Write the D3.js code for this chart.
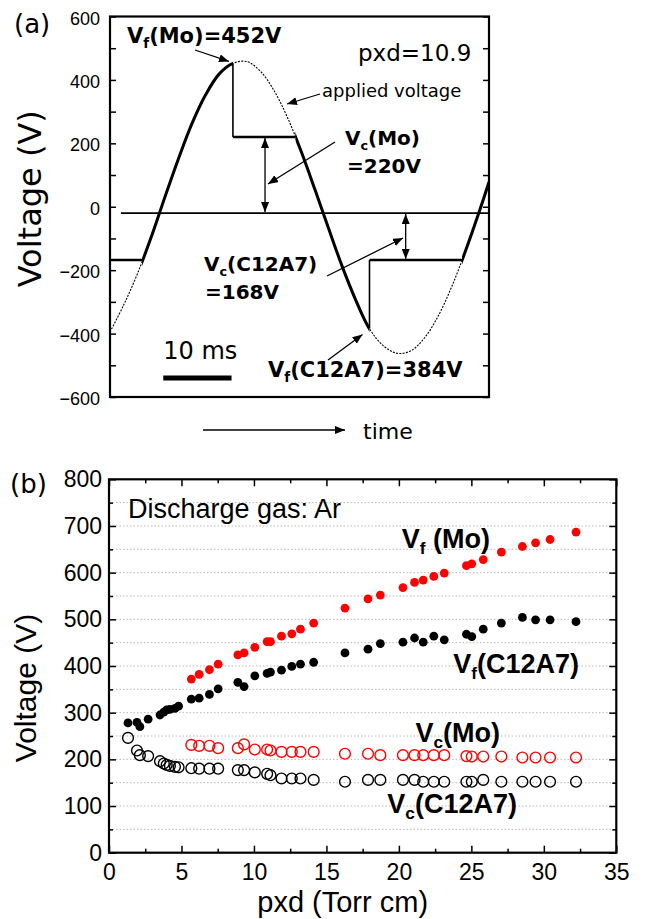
<!DOCTYPE html>
<html>
<head>
<meta charset="utf-8">
<script src="https://cdn.jsdelivr.net/npm/d3@7"></script>
<style>
  html, body { margin: 0; padding: 0; background: #fff; }
  svg { display: block; }
</style>
</head>
<body>
<svg id="fig" width="645" height="919"></svg>
<script>
// ---------- (a) voltage waveform at pxd = 10.9 ----------
const waveTimeMs = [0, 2, 4, 6, 8, 10, 12, 14, 16, 18, 20, 22, 24, 26, 28, 30, 32, 34, 36, 38, 40, 42, 44, 46, 48, 50, 52, 54, 55.5];
const appliedV   = [-395, -310, -212, -98, 28, 150, 262, 353, 419, 452, 458, 428, 367, 281, 174, 55, -68, -188, -295, -385, -438, -462, -455, -415, -347, -254, -143, -20, 78];
// spans where the cell voltage follows the applied voltage
const followSpans = [[4.7, 18], [27.15, 38], [51.55, 55.5]];
// sustained (flat) cell-voltage spans
const plateauT0 = [0, 18, 38];
const plateauT1 = [4.7, 27.15, 51.55];
const plateauV  = [-168, 220, -168];
// firing events: time, firing voltage, sustaining voltage reached
const firingT  = [18, 38];
const firingVf = [452, -384];
const firingVc = [220, -168];
const refLevelV = -20;
const yTicksA = [-600, -500, -400, -300, -200, -100, 0, 100, 200, 300, 400, 500, 600];
const scaleBarMs = 10;

// ---------- (b) firing / sustaining voltage vs pxd ----------
const pxdMo = [5.68, 6.22, 6.93, 7.53, 8.89, 9.32, 10.06, 10.91, 11.14, 11.90, 12.61, 13.21, 14.12, 16.28, 17.87, 18.72, 20.28, 21.08, 21.68, 22.41, 23.13, 24.66, 25.03, 25.82, 27.07, 28.52, 29.43, 30.43, 32.22];
const vfMo  = [372, 382, 392, 404, 424, 428, 440, 452, 452, 464, 469, 479, 492, 524, 544, 552, 568, 579, 584, 592, 599, 615, 619, 628, 644, 656, 664, 671, 687];
const vcMo  = [231, 229, 229, 224, 224, 232, 221, 221, 219, 216, 216, 216, 216, 212, 212, 209, 209, 209, 209, 209, 209, 207, 206, 206, 206, 204, 204, 204, 204];
const pxdC12A7 = [1.31, 1.93, 2.13, 2.70, 3.52, 3.78, 3.98, 4.20, 4.55, 4.80, 5.68, 6.22, 6.93, 7.53, 8.89, 9.32, 10.06, 10.91, 11.14, 11.90, 12.61, 13.21, 14.12, 16.28, 17.87, 18.72, 20.28, 21.08, 21.68, 22.41, 23.13, 24.66, 25.03, 25.82, 27.07, 28.52, 29.43, 30.43, 32.22];
const vfC12A7  = [278, 279, 270, 286, 295, 301, 306, 307, 309, 314, 329, 331, 339, 351, 365, 356, 379, 384, 387, 391, 399, 404, 408, 428, 436, 448, 451, 460, 451, 464, 456, 468, 463, 479, 492, 504, 499, 499, 495];
const vcC12A7  = [246, 219, 209, 207, 196, 191, 188, 186, 184, 183, 181, 180, 180, 180, 177, 177, 172, 169, 166, 159, 159, 159, 156, 152, 156, 156, 156, 156, 152, 152, 152, 152, 152, 156, 152, 152, 152, 152, 152];
const xTicksB = [0, 5, 10, 15, 20, 25, 30, 35];
const yTicksB = [0, 100, 200, 300, 400, 500, 600, 700, 800];

const svg = d3.select("#fig");
const SANS = "'Liberation Sans', Arial, sans-serif";
const DEJA = "'DejaVu Sans', sans-serif";
const fmtSigned = d => (d < 0 ? "\u2212" + Math.abs(d) : String(d));

// arrowhead marker
const defs = svg.append("defs");
defs.append("marker")
  .attr("id", "head").attr("viewBox", "0 0 10 8")
  .attr("refX", 10).attr("refY", 4)
  .attr("markerWidth", 10).attr("markerHeight", 8)
  .attr("markerUnits", "userSpaceOnUse")
  .attr("orient", "auto-start-reverse")
  .append("path").attr("d", "M0,0 L10,4 L0,8 Z").attr("fill", "#000");

// text with a subscript part: parts = [[text, isSub], ...]
function richText(g, x, y, parts, size, family, weight, anchor) {
  const t = g.append("text")
    .attr("x", x).attr("y", y)
    .attr("font-family", family).attr("font-size", size)
    .attr("font-weight", weight || "normal")
    .attr("text-anchor", anchor || "start")
    .attr("fill", "#000");
  const shift = size * 0.24;
  let lowered = false;
  parts.forEach(([s, sub]) => {
    const ts = t.append("tspan").text(s);
    if (sub && !lowered) { ts.attr("dy", shift).attr("font-size", size * 0.64); lowered = true; }
    else if (!sub && lowered) { ts.attr("dy", -shift); lowered = false; }
  });
  return t;
}
function plainText(g, x, y, s, size, family, weight) {
  return g.append("text").attr("x", x).attr("y", y)
    .attr("font-family", family).attr("font-size", size)
    .attr("font-weight", weight || "normal").attr("fill", "#000").text(s);
}

// ================= panel (a) =================
const A = {left: 110, right: 489, top: 16.5, bottom: 397};
const xA = d3.scaleLinear().domain([0, 55.5]).range([A.left, A.right]);
const yA = d3.scaleLinear().domain([-600, 600]).range([A.bottom, A.top]);
const gA = svg.append("g");

const wave = waveTimeMs.map((t, i) => [t, appliedV[i]]);
const waveLine = d3.line().x(d => xA(d[0])).y(d => yA(d[1])).curve(d3.curveCatmullRom);

defs.append("clipPath").attr("id", "clipA")
  .append("rect").attr("x", A.left).attr("y", A.top)
  .attr("width", A.right - A.left).attr("height", A.bottom - A.top);
const follow = defs.append("clipPath").attr("id", "follow");
follow.selectAll("rect").data(followSpans).join("rect")
  .attr("x", d => xA(d[0])).attr("width", d => xA(d[1]) - xA(d[0]))
  .attr("y", A.top - 10).attr("height", A.bottom - A.top + 20);

const plotA = gA.append("g").attr("clip-path", "url(#clipA)");

// reference level line
plotA.append("line")
  .attr("x1", xA(1.6)).attr("x2", A.right)
  .attr("y1", yA(refLevelV)).attr("y2", yA(refLevelV))
  .attr("stroke", "#000").attr("stroke-width", 1.6);

// applied voltage (thin dotted)
plotA.append("path").datum(wave)
  .attr("d", waveLine).attr("fill", "none")
  .attr("stroke", "#000").attr("stroke-width", 1.1)
  .attr("stroke-dasharray", "2,1.3");

// cell voltage: follows applied voltage between discharges
plotA.append("g").attr("clip-path", "url(#follow)")
  .append("path").datum(wave)
  .attr("d", waveLine).attr("fill", "none")
  .attr("stroke", "#000").attr("stroke-width", 3);

// cell voltage: sustained levels
plotA.selectAll("line.plateau").data(plateauV).join("line")
  .attr("class", "plateau")
  .attr("x1", (d, i) => xA(plateauT0[i])).attr("x2", (d, i) => xA(plateauT1[i]))
  .attr("y1", d => yA(d)).attr("y2", d => yA(d))
  .attr("stroke", "#000").attr("stroke-width", 2.6);

// cell voltage: collapse at firing
plotA.selectAll("line.fire").data(firingT).join("line")
  .attr("class", "fire")
  .attr("x1", d => xA(d)).attr("x2", d => xA(d))
  .attr("y1", (d, i) => yA(firingVf[i])).attr("y2", (d, i) => yA(firingVc[i]))
  .attr("stroke", "#000").attr("stroke-width", 1.6);

// axes (a)
const axLA = d3.axisLeft(yA).tickValues(yTicksA).tickSize(-6).tickPadding(10)
  .tickFormat(d => (d % 200 === 0 ? fmtSigned(d) : ""));
const gLA = gA.append("g").attr("transform", `translate(${A.left},0)`).call(axLA);
const axRA = d3.axisRight(yA).tickValues(yTicksA).tickSize(-6).tickFormat("");
const gRA = gA.append("g").attr("transform", `translate(${A.right},0)`).call(axRA);
[gLA, gRA].forEach(g => {
  g.select(".domain").remove();
  g.selectAll(".tick line").attr("stroke-width", 1.5);
  g.selectAll(".tick text").attr("font-family", SANS).attr("font-size", 18)
    .attr("fill", "#000").attr("dy", "0.42em");
});
gA.append("rect")
  .attr("x", A.left).attr("y", A.top)
  .attr("width", A.right - A.left).attr("height", A.bottom - A.top)
  .attr("fill", "none").attr("stroke", "#000").attr("stroke-width", 2.2);

// y label (a)
gA.append("text")
  .attr("transform", `translate(41,${(A.top + A.bottom) / 2 - 8}) rotate(-90)`)
  .attr("text-anchor", "middle")
  .attr("font-family", DEJA).attr("font-size", 32).text("Voltage (V)");

plainText(gA, 14, 33, "(a)", 26, DEJA);

// annotations (a)
richText(gA, 127, 43, [["V", false], ["f", true], ["(Mo)=452V", false]], 21, DEJA, "bold");
plainText(gA, 358, 61, "pxd=10.9", 23, DEJA);
plainText(gA, 322, 97, "applied voltage", 18, DEJA);
richText(gA, 345, 145, [["V", false], ["c", true], ["(Mo)", false]], 20, DEJA, "bold");
plainText(gA, 347, 173, "=220V", 20, DEJA, "bold");
richText(gA, 204, 271, [["V", false], ["c", true], ["(C12A7)", false]], 20, DEJA, "bold");
plainText(gA, 205, 299, "=168V", 20, DEJA, "bold");
richText(gA, 268, 377, [["V", false], ["f", true], ["(C12A7)=384V", false]], 21, DEJA, "bold");

function arrow(g, x1, y1, x2, y2, both) {
  const l = g.append("line")
    .attr("x1", x1).attr("y1", y1).attr("x2", x2).attr("y2", y2)
    .attr("stroke", "#000").attr("stroke-width", 1.3)
    .attr("marker-end", "url(#head)");
  if (both) l.attr("marker-start", "url(#head)");
}
// pointer arrows
arrow(gA, 195, 50, xA(firingT[0]) - 4, yA(firingVf[0]) - 2);
arrow(gA, 320, 94, 287, 104);
arrow(gA, 335, 142, 268, 184);
arrow(gA, 327, 276, 403, 238);
arrow(gA, 328, 360, xA(firingT[1]) - 7, yA(firingVf[1]) + 6);
arrow(gA, xA(22.7), yA(firingVc[0]) + 1, xA(22.7), yA(refLevelV) - 1, true);
arrow(gA, xA(43.3), yA(refLevelV) + 1, xA(43.3), yA(firingVc[1]) - 1, true);

// time scale bar
gA.append("line")
  .attr("x1", xA(7.8)).attr("x2", xA(7.8 + scaleBarMs))
  .attr("y1", 378).attr("y2", 378)
  .attr("stroke", "#000").attr("stroke-width", 5);
plainText(gA, xA(7.8), 359, "10 ms", 24, DEJA);

// time direction
arrow(gA, 203, 430, 345, 430);
plainText(gA, 363, 439, "time", 22, DEJA);

// ================= panel (b) =================
const B = {left: 109, right: 616.3, top: 479.3, bottom: 852.7};
const xB = d3.scaleLinear().domain([0, 35]).range([B.left, B.right]);
const yB = d3.scaleLinear().domain([0, 800]).range([B.bottom, B.top]);
const gB = svg.append("g");

// dotted grid every 50 V
gB.append("g").selectAll("line").data(d3.range(50, 800, 50)).join("line")
  .attr("x1", B.left).attr("x2", B.right)
  .attr("y1", d => yB(d)).attr("y2", d => yB(d))
  .attr("stroke", "#b8b8b8").attr("stroke-width", 1)
  .attr("stroke-dasharray", "1.5,2");

// axes (b)
const minorX = d3.range(2.5, 35, 5);
const minorY = d3.range(50, 800, 100);
function styleAxis(g) {
  g.select(".domain").remove();
  g.selectAll(".tick line").attr("stroke-width", 1.5);
  g.selectAll(".tick text").attr("font-family", SANS).attr("font-size", 23).attr("fill", "#000");
}
styleAxis(gB.append("g").attr("transform", `translate(0,${B.bottom})`)
  .call(d3.axisBottom(xB).tickValues(xTicksB).tickSize(-7).tickPadding(11)));
styleAxis(gB.append("g").attr("transform", `translate(0,${B.bottom})`)
  .call(d3.axisBottom(xB).tickValues(minorX).tickSize(-4).tickFormat("")));
styleAxis(gB.append("g").attr("transform", `translate(0,${B.top})`)
  .call(d3.axisTop(xB).tickValues(xTicksB).tickSize(-7).tickFormat("")));
styleAxis(gB.append("g").attr("transform", `translate(0,${B.top})`)
  .call(d3.axisTop(xB).tickValues(minorX).tickSize(-4).tickFormat("")));
styleAxis(gB.append("g").attr("transform", `translate(${B.left},0)`)
  .call(d3.axisLeft(yB).tickValues(yTicksB).tickSize(-7).tickPadding(7)));
styleAxis(gB.append("g").attr("transform", `translate(${B.left},0)`)
  .call(d3.axisLeft(yB).tickValues(minorY).tickSize(-4).tickFormat("")));
styleAxis(gB.append("g").attr("transform", `translate(${B.right},0)`)
  .call(d3.axisRight(yB).tickValues(yTicksB).tickSize(-7).tickFormat("")));
styleAxis(gB.append("g").attr("transform", `translate(${B.right},0)`)
  .call(d3.axisRight(yB).tickValues(minorY).tickSize(-4).tickFormat("")));

gB.append("rect")
  .attr("x", B.left).attr("y", B.top)
  .attr("width", B.right - B.left).attr("height", B.bottom - B.top)
  .attr("fill", "none").attr("stroke", "#000").attr("stroke-width", 2.2);

// sustaining voltages (open circles)
function openSeries(xs, ys, color) {
  gB.append("g").selectAll("circle").data(ys).join("circle")
    .attr("cx", (d, i) => xB(xs[i])).attr("cy", d => yB(d)).attr("r", 5.4)
    .attr("fill", "none").attr("stroke", color).attr("stroke-width", 1.4);
}
// firing voltages (filled dots)
function filledSeries(xs, ys, color) {
  gB.append("g").selectAll("circle").data(ys).join("circle")
    .attr("cx", (d, i) => xB(xs[i])).attr("cy", d => yB(d)).attr("r", 4.4)
    .attr("fill", color);
}
openSeries(pxdC12A7, vcC12A7, "#000");
openSeries(pxdMo, vcMo, "#ff0000");
filledSeries(pxdC12A7, vfC12A7, "#000");
filledSeries(pxdMo, vfMo, "#ff0000");

// labels (b)
plainText(gB, 10, 493, "(b)", 26, DEJA);
plainText(gB, 128, 518, "Discharge gas: Ar", 27, SANS);
richText(gB, 490, 548, [["V", false], ["f", true], [" (Mo)", false]], 27, SANS, "bold", "end");
richText(gB, 579, 673, [["V", false], ["f", true], ["(C12A7)", false]], 27, SANS, "bold", "end");
richText(gB, 500, 742, [["V", false], ["c", true], ["(Mo)", false]], 27, SANS, "bold", "end");
richText(gB, 517, 813, [["V", false], ["c", true], ["(C12A7)", false]], 27, SANS, "bold", "end");

gB.append("text")
  .attr("transform", "translate(36,688) rotate(-90)")
  .attr("text-anchor", "middle")
  .attr("font-family", SANS).attr("font-size", 30).text("Voltage (V)");
gB.append("text").attr("x", (B.left + B.right) / 2 - 20).attr("y", 912)
  .attr("text-anchor", "middle")
  .attr("font-family", SANS).attr("font-size", 29).text("pxd (Torr cm)");
</script>
</body>
</html>
